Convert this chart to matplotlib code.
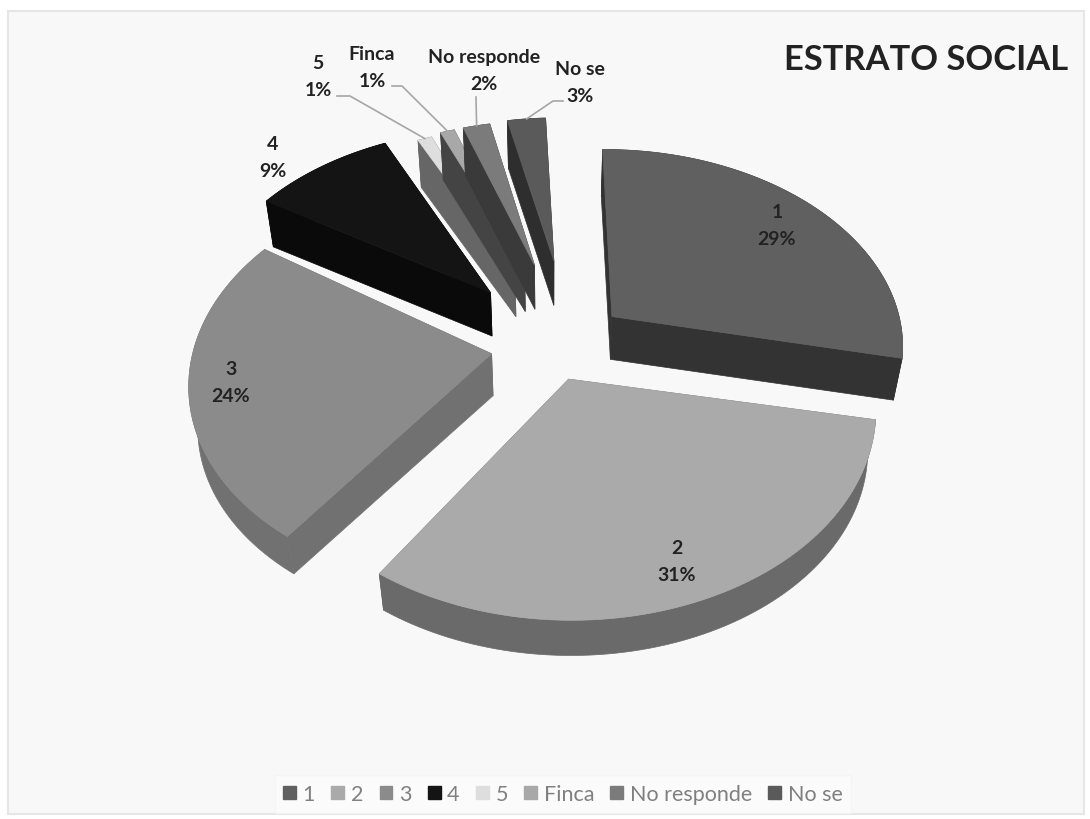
#!/usr/bin/env python3
"""Exploded 3D pie of ESTRATO SOCIAL, projected by hand since matplotlib has no 3D pie."""

import numpy as np
import matplotlib

matplotlib.use("Agg")
import matplotlib.pyplot as plt
from matplotlib.patches import Patch, Polygon, Rectangle

categories = ["1", "2", "3", "4", "5", "Finca", "No responde", "No se"]
# unrounded shares, labels show them rounded
values = [28.6, 31.4, 24.4, 9.0, 1.0, 1.0, 1.9, 2.7]

top_colors = ["#606060", "#aaaaaa", "#8b8b8b", "#141414", "#dedede", "#a8a8a8", "#7b7b7b", "#5a5a5a"]
side_colors = ["#333333", "#6a6a6a", "#717171", "#0a0a0a", "#666666", "#444444", "#3a3a3a", "#2e2e2e"]

# per-slice layout tweaks, the reference projection is not a clean radial explode
explode = [0.24, 0.16, 0.21, 0.34, 0.44, 0.46, 0.46, 0.47]
shift_x = [0.03, 0.0, 0.01, 0.02, 0.055, 0.07, 0.065, 0.07]
shift_y = [0.01, 0.0, 0.02, 0.04, 0.0, 0.0, 0.0, 0.0]
spin = [1.5, 0, 2, 0, 0, 0, 0, 0]
radius = [0.985, 1.0, 1.0, 1.0, 0.9, 0.9, 0.9, 0.9]

# label centres in pixels, leader start and elbow only for the small slices
label_pos = [(777, 226), (677, 562), (231, 383), (273, 158), (318, 77), (372, 68), (484, 71), (580, 83)]
leaders = {
    4: [(337, 97), (350, 97)],
    5: [(392, 87), (402, 87)],
    6: [(476, 98), (476, 100)],
    7: [(563, 102), (553, 102)],
}

START_ANGLE = -2
CX, CY = 550, 350
RX, RY = 298, 200
PERSP = 0.134
DEPTH = 42
BOTTOM_SCALE = 0.975


def project(x, y):
    s = 1 / (1 + PERSP * y)
    return np.column_stack([CX + RX * x * s, CY - RY * y * s])


def lower(pts):
    out = pts.copy()
    out[:, 0] = CX + (pts[:, 0] - CX) * BOTTOM_SCALE
    out[:, 1] = CY + (pts[:, 1] - CY) * BOTTOM_SCALE + DEPTH
    return out


def wedge_points(i, start, end):
    mid = np.radians((start + end) / 2)
    ax0 = explode[i] * np.sin(mid) + shift_x[i]
    ay0 = explode[i] * np.cos(mid) + shift_y[i]
    th = np.radians(np.linspace(start + spin[i], end + spin[i], 80))
    r = radius[i]
    rim = project(ax0 + r * np.sin(th), ay0 + r * np.cos(th))
    apex = project(np.array([ax0]), np.array([ay0]))
    return apex, rim


fig = plt.figure(figsize=(10.9, 8.2), dpi=100, facecolor="white")
ax = fig.add_axes([0, 0, 1, 1])
ax.set_xlim(0, 1090)
ax.set_ylim(820, 0)
ax.axis("off")
ax.add_patch(Rectangle((8, 12), 1076, 803, fc="#f8f8f8", ec="#e6e6e6", lw=1.5, zorder=0))

edges = START_ANGLE + np.cumsum([0] + values) * 3.6
# far slices first, near ones paint over them
order = [3, 4, 5, 6, 7, 0, 2, 1]
shapes = {}
for z, i in enumerate(order):
    apex, rim = wedge_points(i, edges[i], edges[i + 1])
    shapes[i] = (apex, rim)
    apex_b, rim_b = lower(apex), lower(rim)
    zo = 2 + z
    side = side_colors[i]
    # two cut faces, then the curved outer face, then the top
    for k in (0, -1):
        face = np.vstack([apex, rim[k], rim_b[k], apex_b])
        ax.add_patch(Polygon(face, fc=side, ec=side, lw=0.5, zorder=zo))
    outer = np.vstack([rim, rim_b[::-1]])
    ax.add_patch(Polygon(outer, fc=side, ec=side, lw=0.5, zorder=zo))
    ax.add_patch(Polygon(np.vstack([apex, rim]), fc=top_colors[i], ec=top_colors[i], lw=0.5, zorder=zo))

for i, pts in leaders.items():
    rim = shapes[i][1]
    end = rim[len(rim) // 2]
    xs = [p[0] for p in pts] + [end[0]]
    ys = [p[1] for p in pts] + [end[1]]
    ax.plot(xs, ys, color="#a6a6a6", lw=1.2, zorder=20)

for name, v, pos in zip(categories, values, label_pos):
    ax.text(pos[0], pos[1], f"{name}\n{v:.0f}%", ha="center", va="center", family="Lato",
            weight="bold", fontsize=14, color="#222222", linespacing=1.65, zorder=21)

ax.text(1068, 60, "ESTRATO SOCIAL", ha="right", va="center", family="Lato", weight="bold",
        fontsize=24.8, color="#222222", zorder=21)

handles = [Patch(fc=c, ec=c) for c in top_colors]
leg = ax.legend(handles, categories, loc="center", bbox_to_anchor=(563 / 1090, 1 - 795 / 820),
                ncols=8, frameon=True, fancybox=False, facecolor="#fcfcfc", edgecolor="#f4f4f4",
                handlelength=0.6, handleheight=0.6, handletextpad=0.3, columnspacing=0.76,
                prop={"family": "Lato", "size": 15.5}, labelcolor="#808080")
leg.set_zorder(21)

fig.savefig("out.png", dpi=100, facecolor="white")
plt.close(fig)
